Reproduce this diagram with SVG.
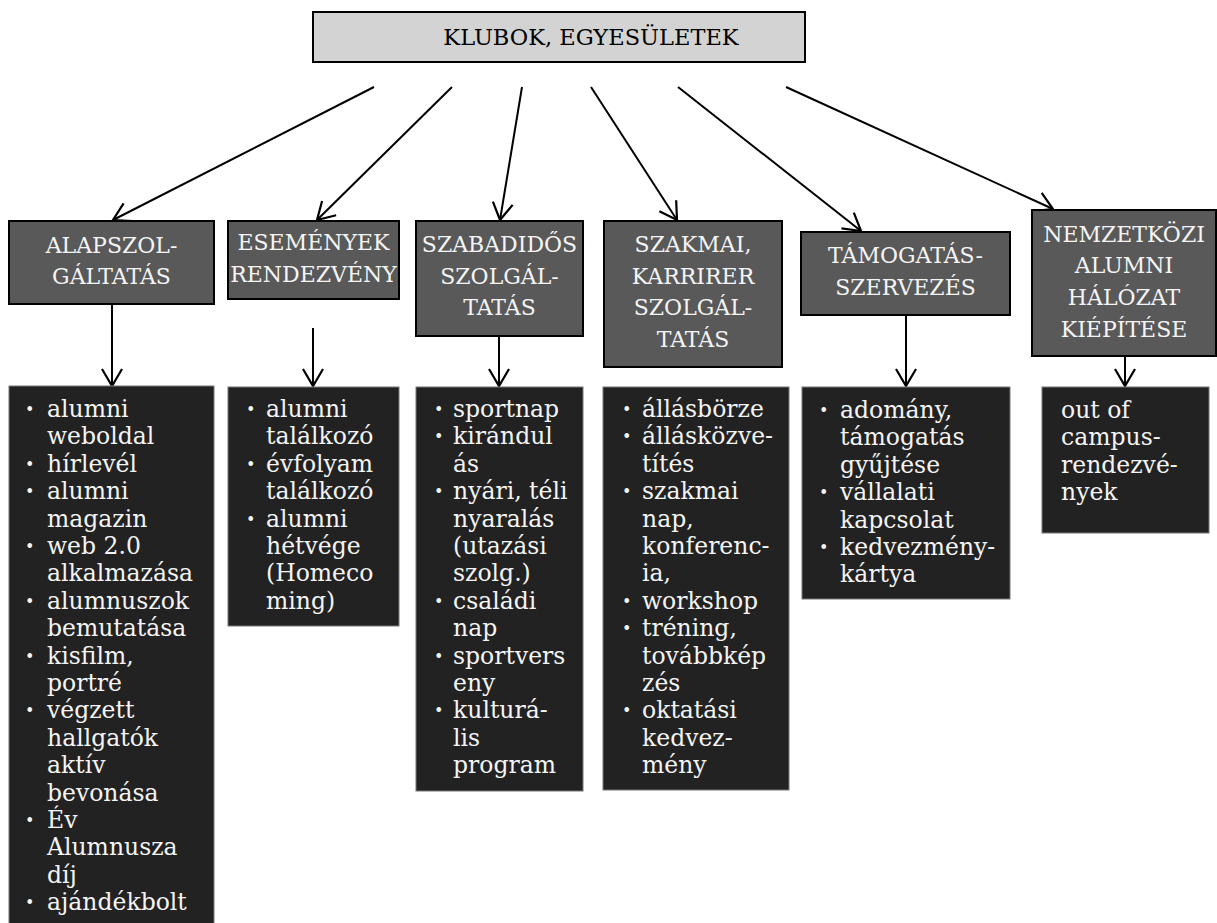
<svg xmlns="http://www.w3.org/2000/svg" width="1217" height="923" viewBox="0 0 1217 923">
  <style>
    .root { fill: #d3d3d3; stroke: #000; stroke-width: 2; }
    .cat { fill: #595959; stroke: #000; stroke-width: 2; }
    .list { fill: #222; stroke: #777; stroke-width: 1; }
    .title { font-family: "DejaVu Serif", serif; font-size: 22.5px; fill: #000; text-anchor: middle; }
    .head { font-family: "DejaVu Serif", serif; font-size: 22px; fill: #f4f4f4; text-anchor: middle; }
    .body { font-family: "DejaVu Serif", serif; font-size: 23.5px; fill: #f4f4f4; }
    .bul { font-family: "DejaVu Serif", serif; font-size: 16px; fill: #f4f4f4; }
    .conn line { stroke: #000; stroke-width: 2; marker-end: url(#vee); }
  </style>
  <defs>
    <marker id="vee" markerUnits="userSpaceOnUse" markerWidth="40" markerHeight="40" viewBox="-20 -20 40 40" refX="0" refY="0" orient="auto" overflow="visible">
      <path d="M-17,-10 L0,0 L-17,10" fill="none" stroke="#000" stroke-width="2.2"/>
    </marker>
  </defs>

  <rect width="1217" height="923" fill="#fff"/>

  <!-- connectors -->
  <g id="connectors" class="conn">
    <line x1="374" y1="87" x2="113" y2="220"/>
    <line x1="452" y1="87" x2="317" y2="220"/>
    <line x1="522" y1="87" x2="500" y2="220"/>
    <line x1="591" y1="87" x2="677" y2="220"/>
    <line x1="678" y1="87" x2="861" y2="231"/>
    <line x1="786" y1="87" x2="1053" y2="209"/>
    <line x1="112" y1="304" x2="112" y2="386"/>
    <line x1="313" y1="328" x2="313" y2="386"/>
    <line x1="499" y1="336" x2="499" y2="386"/>
    <line x1="906" y1="315" x2="906" y2="386"/>
    <line x1="1125" y1="356" x2="1125" y2="386"/>
  </g>

  <!-- root -->
  <g id="klubok">
    <rect class="root" x="313" y="12" width="492" height="50"/>
    <text class="title" x="591" y="45">KLUBOK, EGYESÜLETEK</text>
  </g>

  <!-- categories -->
  <g id="alapszolgaltatas">
    <rect class="cat" x="9" y="221" width="205" height="83"/>
    <text class="head"><tspan x="111.5" y="253">ALAPSZOL-</tspan><tspan x="111.5" y="284">GÁLTATÁS</tspan></text>
  </g>
  <g id="esemenyek">
    <rect class="cat" x="228" y="221" width="171" height="78"/>
    <text class="head"><tspan x="313.5" y="250">ESEMÉNYEK</tspan><tspan x="313.5" y="282">RENDEZVÉNY</tspan></text>
  </g>
  <g id="szabadidos">
    <rect class="cat" x="416" y="221" width="167" height="115"/>
    <text class="head"><tspan x="499.5" y="252">SZABADIDŐS</tspan><tspan x="499.5" y="284">SZOLGÁL-</tspan><tspan x="499.5" y="315">TATÁS</tspan></text>
  </g>
  <g id="szakmai">
    <rect class="cat" x="604" y="221" width="178" height="146"/>
    <text class="head"><tspan x="693" y="252">SZAKMAI,</tspan><tspan x="693" y="284">KARRIRER</tspan><tspan x="693" y="315">SZOLGÁL-</tspan><tspan x="693" y="347">TATÁS</tspan></text>
  </g>
  <g id="tamogatas">
    <rect class="cat" x="801" y="232" width="209" height="83"/>
    <text class="head"><tspan x="905.5" y="263">TÁMOGATÁS-</tspan><tspan x="905.5" y="295">SZERVEZÉS</tspan></text>
  </g>
  <g id="nemzetkozi">
    <rect class="cat" x="1032" y="210" width="184" height="146"/>
    <text class="head"><tspan x="1124" y="242">NEMZETKÖZI</tspan><tspan x="1124" y="273">ALUMNI</tspan><tspan x="1124" y="305">HÁLÓZAT</tspan><tspan x="1124" y="337">KIÉPÍTÉSE</tspan></text>
  </g>

  <!-- item lists -->
  <g id="lista-alap">
    <rect class="list" x="9" y="386" width="205" height="545"/>
    <text class="bul"><tspan x="25" y="415">•</tspan><tspan x="25" y="469.8">•</tspan><tspan x="25" y="497.2">•</tspan><tspan x="25" y="552">•</tspan><tspan x="25" y="606.8">•</tspan><tspan x="25" y="661.6">•</tspan><tspan x="25" y="716.4">•</tspan><tspan x="25" y="826">•</tspan><tspan x="25" y="908.2">•</tspan></text>
    <text class="body">
      <tspan x="47" y="417">alumni</tspan>
      <tspan x="47" dy="27.4">weboldal</tspan>
      <tspan x="47" dy="27.4">hírlevél</tspan>
      <tspan x="47" dy="27.4">alumni</tspan>
      <tspan x="47" dy="27.4">magazin</tspan>
      <tspan x="47" dy="27.4">web 2.0</tspan>
      <tspan x="47" dy="27.4">alkalmazása</tspan>
      <tspan x="47" dy="27.4">alumnuszok</tspan>
      <tspan x="47" dy="27.4">bemutatása</tspan>
      <tspan x="47" dy="27.4">kisfilm,</tspan>
      <tspan x="47" dy="27.4">portré</tspan>
      <tspan x="47" dy="27.4">végzett</tspan>
      <tspan x="47" dy="27.4">hallgatók</tspan>
      <tspan x="47" dy="27.4">aktív</tspan>
      <tspan x="47" dy="27.4">bevonása</tspan>
      <tspan x="47" dy="27.4">Év</tspan>
      <tspan x="47" dy="27.4">Alumnusza</tspan>
      <tspan x="47" dy="27.4">díj</tspan>
      <tspan x="47" dy="27.4">ajándékbolt</tspan>
    </text>
  </g>
  <g id="lista-esemenyek">
    <rect class="list" x="228" y="387" width="171" height="239"/>
    <text class="bul"><tspan x="246" y="415">•</tspan><tspan x="246" y="469.8">•</tspan><tspan x="246" y="524.6">•</tspan></text>
    <text class="body">
      <tspan x="266" y="417">alumni</tspan>
      <tspan x="266" dy="27.4">találkozó</tspan>
      <tspan x="266" dy="27.4">évfolyam</tspan>
      <tspan x="266" dy="27.4">találkozó</tspan>
      <tspan x="266" dy="27.4">alumni</tspan>
      <tspan x="266" dy="27.4">hétvége</tspan>
      <tspan x="266" dy="27.4">(Homeco</tspan>
      <tspan x="266" dy="27.4">ming)</tspan>
    </text>
  </g>
  <g id="lista-szabadidos">
    <rect class="list" x="416" y="387" width="167" height="404"/>
    <text class="bul"><tspan x="434" y="415">•</tspan><tspan x="434" y="442.4">•</tspan><tspan x="434" y="497.2">•</tspan><tspan x="434" y="606.8">•</tspan><tspan x="434" y="661.6">•</tspan><tspan x="434" y="716.4">•</tspan></text>
    <text class="body">
      <tspan x="453" y="417">sportnap</tspan>
      <tspan x="453" dy="27.4">kirándul</tspan>
      <tspan x="453" dy="27.4">ás</tspan>
      <tspan x="453" dy="27.4">nyári, téli</tspan>
      <tspan x="453" dy="27.4">nyaralás</tspan>
      <tspan x="453" dy="27.4">(utazási</tspan>
      <tspan x="453" dy="27.4">szolg.)</tspan>
      <tspan x="453" dy="27.4">családi</tspan>
      <tspan x="453" dy="27.4">nap</tspan>
      <tspan x="453" dy="27.4">sportvers</tspan>
      <tspan x="453" dy="27.4">eny</tspan>
      <tspan x="453" dy="27.4">kulturá-</tspan>
      <tspan x="453" dy="27.4">lis</tspan>
      <tspan x="453" dy="27.4">program</tspan>
    </text>
  </g>
  <g id="lista-szakmai">
    <rect class="list" x="603" y="387" width="186" height="403"/>
    <text class="bul"><tspan x="622" y="415">•</tspan><tspan x="622" y="442.4">•</tspan><tspan x="622" y="497.2">•</tspan><tspan x="622" y="606.8">•</tspan><tspan x="622" y="634.2">•</tspan><tspan x="622" y="716.4">•</tspan></text>
    <text class="body">
      <tspan x="642" y="417">állásbörze</tspan>
      <tspan x="642" dy="27.4">állásközve-</tspan>
      <tspan x="642" dy="27.4">títés</tspan>
      <tspan x="642" dy="27.4">szakmai</tspan>
      <tspan x="642" dy="27.4">nap,</tspan>
      <tspan x="642" dy="27.4">konferenc-</tspan>
      <tspan x="642" dy="27.4">ia,</tspan>
      <tspan x="642" dy="27.4">workshop</tspan>
      <tspan x="642" dy="27.4">tréning,</tspan>
      <tspan x="642" dy="27.4">továbbkép</tspan>
      <tspan x="642" dy="27.4">zés</tspan>
      <tspan x="642" dy="27.4">oktatási</tspan>
      <tspan x="642" dy="27.4">kedvez-</tspan>
      <tspan x="642" dy="27.4">mény</tspan>
    </text>
  </g>
  <g id="lista-tamogatas">
    <rect class="list" x="802" y="387" width="208" height="212"/>
    <text class="bul"><tspan x="819" y="416">•</tspan><tspan x="819" y="498.2">•</tspan><tspan x="819" y="553">•</tspan></text>
    <text class="body">
      <tspan x="840" y="418">adomány,</tspan>
      <tspan x="840" dy="27.4">támogatás</tspan>
      <tspan x="840" dy="27.4">gyűjtése</tspan>
      <tspan x="840" dy="27.4">vállalati</tspan>
      <tspan x="840" dy="27.4">kapcsolat</tspan>
      <tspan x="840" dy="27.4">kedvezmény-</tspan>
      <tspan x="840" dy="27.4">kártya</tspan>
    </text>
  </g>
  <g id="lista-nemzetkozi">
    <rect class="list" x="1042" y="387" width="167" height="146"/>
    <text class="body">
      <tspan x="1061" y="418">out of</tspan>
      <tspan x="1061" dy="27.4">campus-</tspan>
      <tspan x="1061" dy="27.4">rendezvé-</tspan>
      <tspan x="1061" dy="27.4">nyek</tspan>
    </text>
  </g>
</svg>
